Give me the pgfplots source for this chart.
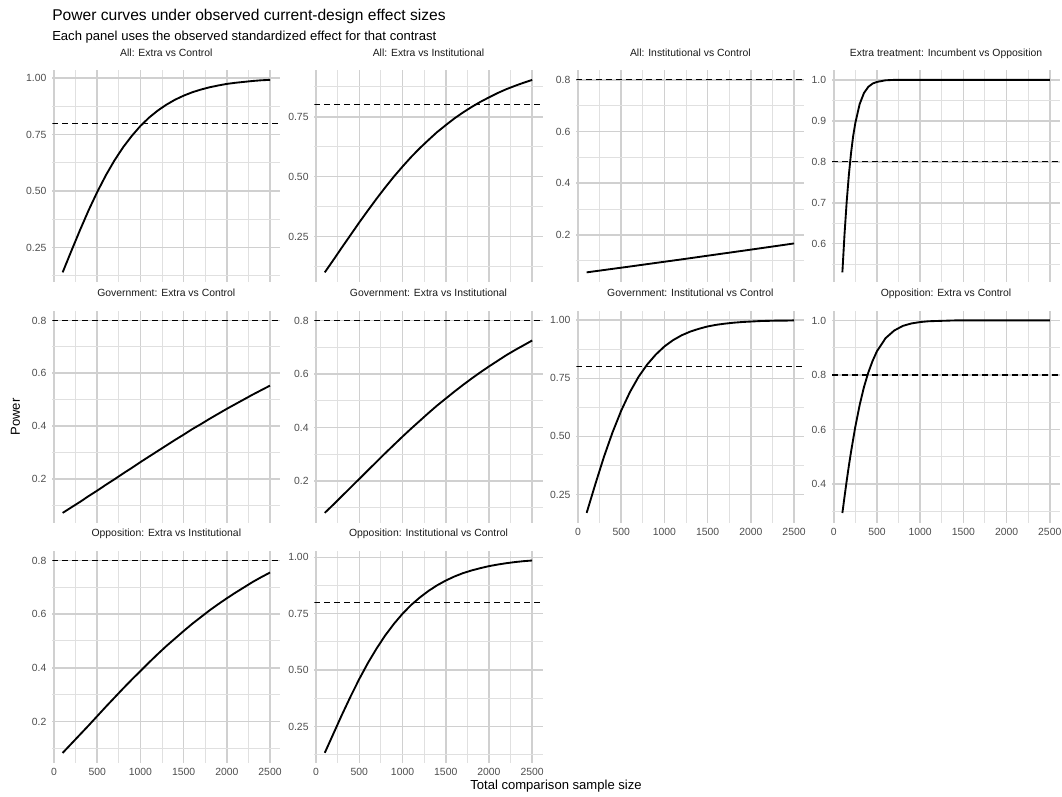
\documentclass[border=0pt]{standalone}
\usepackage{fontspec}
\setmainfont{Liberation Sans}
\usepackage{pgfplots}
\pgfplotsset{compat=1.18}
\definecolor{ticktxt}{HTML}{4D4D4D}
\definecolor{striptxt}{HTML}{1A1A1A}
\definecolor{majgrid}{HTML}{D0D0D0}
\definecolor{mingrid}{HTML}{E0E0E0}
\pgfplotsset{
  panel/.style={
    scale only axis, width=171.1pt, height=158.8pt,
    anchor=south west,
    xmin=-20, xmax=2620,
    axis line style={draw=none},
    tick style={draw=none},
    grid=both,
    major grid style={color=majgrid, line width=1.15pt},
    minor grid style={color=mingrid, line width=0.75pt},
    xtick={0,500,1000,1500,2000,2500},
    minor xtick={250,750,1250,1750,2250},
    xticklabels={},
    tick label style={font=\fontsize{7.8}{9}\selectfont, text=ticktxt},
    yticklabel style={inner sep=0pt, anchor=east, xshift=-4.2pt},
    xticklabel style={inner sep=0pt, anchor=north, yshift=-3.9pt},
    title style={at={(0.5,1)}, anchor=base, inner sep=0pt, yshift=4.6pt,
      font=\fontsize{7.8}{9}\selectfont, text=striptxt},
    clip=true,
  },
  xlab/.style={xticklabels={0,500,1000,1500,2000,2500}},
  curve/.style={black, line width=1.4pt, line join=round},
  hline/.style={black, line width=0.9pt, dash pattern=on 4.5pt off 3pt},
  yA/.style={ytick={0.25,0.5,0.75,1}, yticklabels={0.25,0.50,0.75,1.00}, minor ytick={0.125,0.375,0.625,0.875}},
  yB/.style={ytick={0.2,0.4,0.6,0.8}, yticklabels={0.2,0.4,0.6,0.8}, minor ytick={0.1,0.3,0.5,0.7}},
  yC/.style={ytick={0.6,0.7,0.8,0.9,1}, yticklabels={0.6,0.7,0.8,0.9,1.0}, minor ytick={0.55,0.65,0.75,0.85,0.95}},
  yD/.style={ytick={0.4,0.6,0.8,1}, yticklabels={0.4,0.6,0.8,1.0}, minor ytick={0.3,0.5,0.7,0.9}},
}
\begin{document}
\begin{tikzpicture}
\useasboundingbox (0,0) rectangle (796.5pt,597pt);
\node[anchor=base west, inner sep=0pt, font=\fontsize{11.7}{14}\selectfont] at (39pt,581.5pt) {Power curves under observed current-design effect sizes};
\node[anchor=base west, inner sep=0pt, font=\fontsize{9.8}{12}\selectfont] at (39pt,566.5pt) {Each panel uses the observed standardized effect for that contrast};
\node[rotate=90, inner sep=0pt, font=\fontsize{9.8}{12}\selectfont] at (11.5pt,284.3pt) {Power};
\node[anchor=base, inner sep=0pt, font=\fontsize{9.8}{12}\selectfont] at (417pt,4.7pt) {Total comparison sample size};

% Row 1
\begin{axis}[panel, at={(39.2pt,385.5pt)}, yA, ymin=0.0985, ymax=1.0343, title={All: Extra vs Control}]
\addplot[hline] coordinates {(-20,0.8) (2620,0.8)};
\addplot[curve] coordinates {(100,0.141) (200,0.235) (300,0.327) (400,0.415) (500,0.496) (600,0.570) (700,0.636) (800,0.694) (900,0.744) (1000,0.788) (1100,0.825) (1200,0.856) (1300,0.882) (1400,0.904) (1500,0.922) (1600,0.937) (1700,0.949) (1800,0.959) (1900,0.967) (2000,0.974) (2100,0.979) (2200,0.983) (2300,0.987) (2400,0.990) (2500,0.992)};
\end{axis}
\begin{axis}[panel, at={(235.8pt,385.5pt)}, yA, ymin=0.0598, ymax=0.9442, title={All: Extra vs Institutional}]
\addplot[hline] coordinates {(-20,0.8) (2620,0.8)};
\addplot[curve] coordinates {(100,0.100) (200,0.152) (300,0.205) (400,0.257) (500,0.309) (600,0.359) (700,0.408) (800,0.455) (900,0.500) (1000,0.542) (1100,0.582) (1200,0.619) (1300,0.653) (1400,0.686) (1500,0.715) (1600,0.743) (1700,0.768) (1800,0.791) (1900,0.812) (2000,0.831) (2100,0.849) (2200,0.865) (2300,0.879) (2400,0.892) (2500,0.904)};
\end{axis}
\begin{axis}[panel, at={(432.2pt,385.5pt)}, yB, ymin=0.0174, ymax=0.8373, title={All: Institutional vs Control}]
\addplot[hline] coordinates {(-20,0.8) (2620,0.8)};
\addplot[curve] coordinates {(100,0.0547) (200,0.0592) (400,0.0683) (600,0.0773) (900,0.0912) (1200,0.105) (1600,0.1239) (2000,0.1427) (2500,0.1667)};
\end{axis}
\begin{axis}[panel, at={(624.0pt,385.5pt)}, yC, ymin=0.5065, ymax=1.0235, title={Extra treatment: Incumbent vs Opposition}]
\addplot[hline] coordinates {(-20,0.8) (2620,0.8)};
\addplot[curve] coordinates {(100,0.530) (125,0.624) (150,0.703) (175,0.768) (200,0.821) (225,0.863) (250,0.895) (300,0.941) (350,0.968) (400,0.983) (450,0.991) (500,0.995) (600,0.999) (700,1.0) (800,1.0) (1000,1.0) (1500,1.0) (2000,1.0) (2500,1.0)};
\end{axis}

% Row 2
\begin{axis}[panel, at={(39.2pt,205.1pt)}, yB, ymin=0.034, ymax=0.8365, title={Government: Extra vs Control}]
\addplot[hline] coordinates {(-20,0.8) (2620,0.8)};
\addplot[curve] coordinates {(100,0.0705) (200,0.0913) (300,0.112) (400,0.134) (500,0.155) (600,0.177) (700,0.198) (800,0.220) (900,0.241) (1000,0.263) (1100,0.284) (1200,0.305) (1300,0.326) (1400,0.347) (1500,0.367) (1600,0.388) (1700,0.407) (1800,0.427) (1900,0.446) (2000,0.465) (2100,0.483) (2200,0.501) (2300,0.519) (2400,0.536) (2500,0.553)};
\end{axis}
\begin{axis}[panel, at={(235.8pt,205.1pt)}, yB, ymin=0.0448, ymax=0.836, title={Government: Extra vs Institutional}]
\addplot[hline] coordinates {(-20,0.8) (2620,0.8)};
\addplot[curve] coordinates {(100,0.081) (200,0.112) (300,0.144) (400,0.176) (500,0.208) (600,0.240) (700,0.272) (800,0.304) (900,0.335) (1000,0.366) (1100,0.396) (1200,0.425) (1300,0.454) (1400,0.482) (1500,0.508) (1600,0.534) (1700,0.559) (1800,0.583) (1900,0.606) (2000,0.628) (2100,0.649) (2200,0.670) (2300,0.689) (2400,0.707) (2500,0.725)};
\end{axis}
\begin{axis}[panel, xlab, at={(432.2pt,205.1pt)}, yA, ymin=0.1296, ymax=1.0403, title={Government: Institutional vs Control}]
\addplot[hline] coordinates {(-20,0.8) (2620,0.8)};
\addplot[curve] coordinates {(100,0.171) (200,0.294) (300,0.412) (400,0.518) (500,0.611) (600,0.690) (700,0.756) (800,0.809) (900,0.852) (1000,0.887) (1100,0.914) (1200,0.935) (1300,0.951) (1400,0.963) (1500,0.973) (1600,0.980) (1700,0.985) (1800,0.989) (1900,0.992) (2000,0.994) (2100,0.996) (2200,0.997) (2300,0.998) (2400,0.998) (2500,0.999)};
\end{axis}
\begin{axis}[panel, xlab, at={(624.0pt,205.1pt)}, yD, ymin=0.2591, ymax=1.0353, title={Opposition: Extra vs Control}]
\addplot[hline] coordinates {(-20,0.8) (2620,0.8)};
\addplot[curve] coordinates {(100,0.294) (125,0.354) (150,0.412) (175,0.467) (200,0.518) (250,0.611) (300,0.690) (350,0.756) (400,0.809) (450,0.852) (500,0.887) (600,0.935) (700,0.963) (800,0.980) (900,0.989) (1000,0.994) (1100,0.997) (1200,0.998) (1300,0.999) (1400,1.0) (1600,1.0) (2000,1.0) (2500,1.0)};
\end{axis}

% Row 3
\begin{axis}[panel, xlab, at={(39.2pt,25.1pt)}, yB, ymin=0.0472, ymax=0.8359, title={Opposition: Extra vs Institutional}]
\addplot[hline] coordinates {(-20,0.8) (2620,0.8)};
\addplot[curve] coordinates {(100,0.083) (200,0.117) (300,0.151) (400,0.185) (500,0.220) (600,0.255) (700,0.289) (800,0.323) (900,0.356) (1000,0.388) (1100,0.420) (1200,0.451) (1300,0.481) (1400,0.509) (1500,0.537) (1600,0.564) (1700,0.589) (1800,0.614) (1900,0.637) (2000,0.659) (2100,0.680) (2200,0.700) (2300,0.720) (2400,0.738) (2500,0.755)};
\end{axis}
\begin{axis}[panel, xlab, at={(235.8pt,25.1pt)}, yA, ymin=0.09, ymax=1.029, title={Opposition: Institutional vs Control}]
\addplot[hline] coordinates {(-20,0.8) (2620,0.8)};
\addplot[curve] coordinates {(100,0.133) (200,0.218) (300,0.303) (400,0.384) (500,0.461) (600,0.532) (700,0.596) (800,0.654) (900,0.705) (1000,0.750) (1100,0.789) (1200,0.822) (1300,0.851) (1400,0.876) (1500,0.897) (1600,0.915) (1700,0.930) (1800,0.942) (1900,0.952) (2000,0.961) (2100,0.968) (2200,0.974) (2300,0.979) (2400,0.983) (2500,0.986)};
\end{axis}
\end{tikzpicture}
\end{document}
